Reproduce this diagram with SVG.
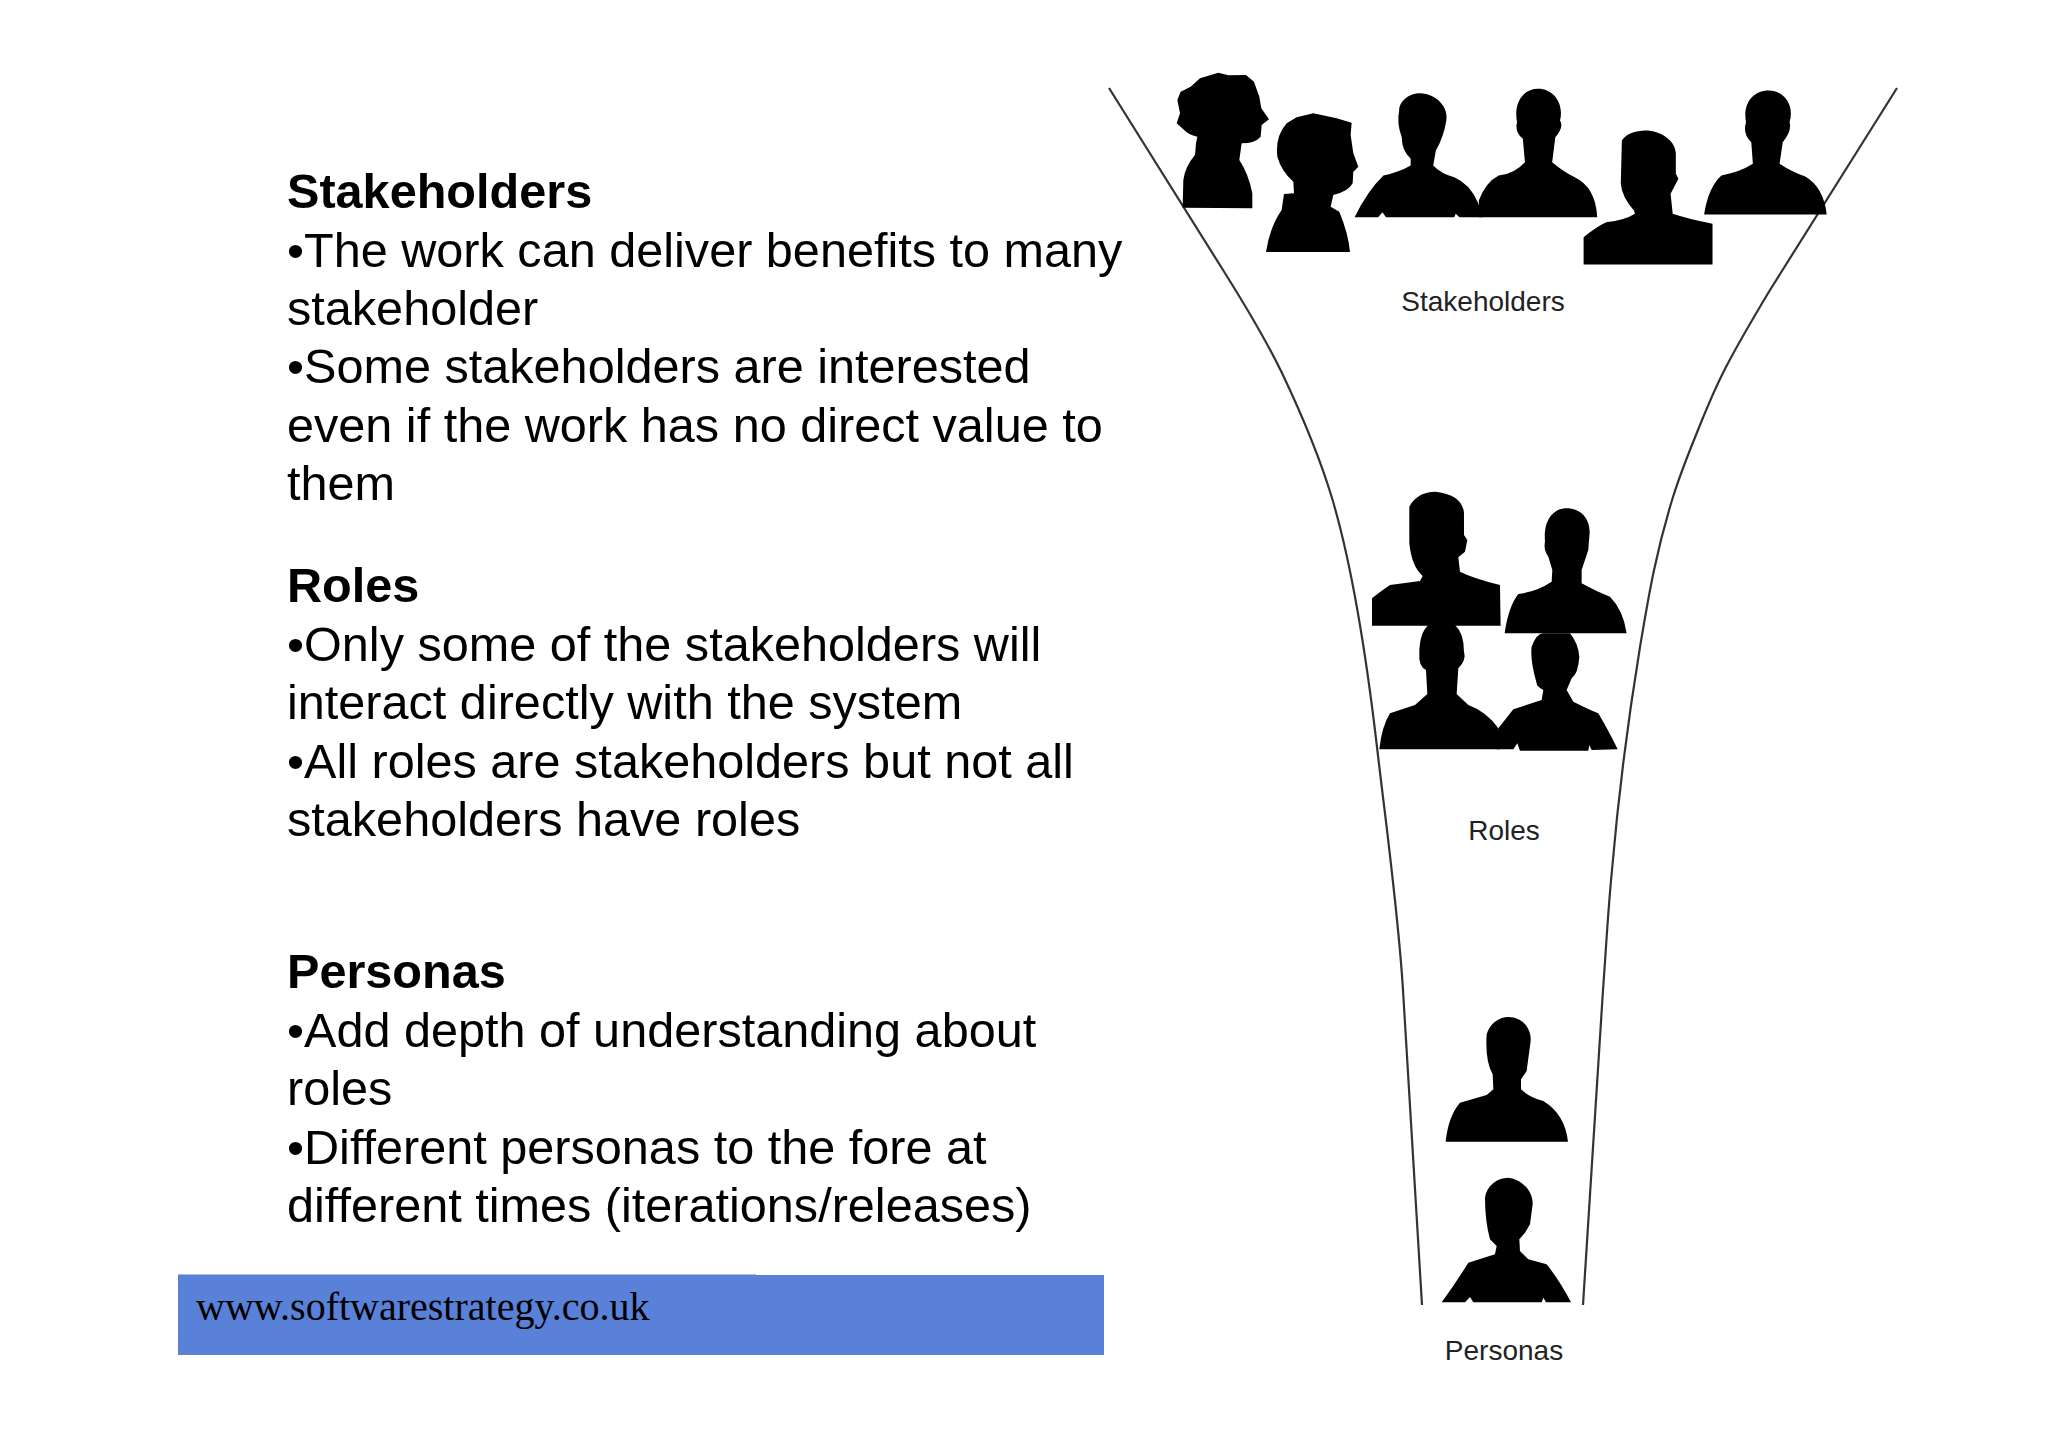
<svg xmlns="http://www.w3.org/2000/svg" width="2048" height="1447" viewBox="0 0 2048 1447">
<style>
.t{font-family:"Liberation Sans",Arial,sans-serif;font-size:48.6px;fill:#000}
.b{font-weight:bold}
.l{font-family:"Liberation Sans",Arial,sans-serif;font-size:28px;fill:#222;text-anchor:middle}
.f{fill:none;stroke:#333;stroke-width:2.2}
.s{fill:#000}
</style>
<rect width="2048" height="1447" fill="#fff"/>
<g id="connectors">
<path id="funnel-left" class="f" d="M1109 88 L1223 270 C1240 297 1265 338 1282 373 C1301 413 1319 455 1332 498 C1355 575 1368 670 1377 747 C1386 825 1398 910 1403 990 L1422 1305"/>
<path id="funnel-right" class="f" d="M1897 88 L1770 290 C1755 315 1740 340 1726 367 C1715 388 1706 410 1698 430 C1689 452 1680 475 1673 497 C1655 555 1648 600 1640 647 C1628 720 1618 800 1612 870 C1608 910 1606 950 1603 990 L1583 1305"/>
</g>
<g id="text-stakeholders">
<text class="t b" x="287" y="208">Stakeholders</text>
<text class="t" x="287" y="267">•The work can deliver benefits to many</text>
<text class="t" x="287" y="325">stakeholder</text>
<text class="t" x="287" y="383">•Some stakeholders are interested</text>
<text class="t" x="287" y="442">even if the work has no direct value to</text>
<text class="t" x="287" y="500">them</text>
</g>
<g id="text-roles">
<text class="t b" x="287" y="602">Roles</text>
<text class="t" x="287" y="661">•Only some of the stakeholders will</text>
<text class="t" x="287" y="719">interact directly with the system</text>
<text class="t" x="287" y="778">•All roles are stakeholders but not all</text>
<text class="t" x="287" y="836">stakeholders have roles</text>
</g>
<g id="text-personas">
<text class="t b" x="287" y="988">Personas</text>
<text class="t" x="287" y="1047">•Add depth of understanding about</text>
<text class="t" x="287" y="1105">roles</text>
<text class="t" x="287" y="1164">•Different personas to the fore at</text>
<text class="t" x="287" y="1222">different times (iterations/releases)</text>
</g>
<g id="banner">
<rect x="178" y="1275" width="926" height="80" fill="#5a81d8"/>
<rect x="178" y="1274" width="578" height="1" fill="#a9bde8"/>
<text x="196" y="1320" font-family="'Liberation Serif','Times New Roman',serif" font-size="40" fill="#000">www.softwarestrategy.co.uk</text>
</g>
<g id="stakeholders">
<g transform="translate(1160 60) scale(0.3333)">
<path class="s" d="M68 443 L70 360 Q75 320 105 285 L108 250 L112 230 Q85 225 70 208 L50 190 L60 160 L52 120 L62 95 L92 80 L120 55 L175 38 L205 46 L258 45 L282 65 L298 110 L304 145 L327 178 L305 195 L302 230 Q285 250 245 250 L238 300 Q265 340 277 400 L277 445 Z"/>
<path class="s" d="M318 576 Q330 500 365 450 L372 402 L402 400 L400 365 Q365 335 352 290 Q345 230 380 190 L410 172 L460 160 L530 175 L575 188 L572 225 L580 280 L595 320 L580 335 L578 370 Q565 395 520 405 L512 440 L538 455 Q565 520 570 576 Z"/>
</g>
<g transform="translate(1090 50.500) scale(0.524 0.3333)">
<path class="s" d="M505 500 Q530 420 560 375 Q590 365 612 345 L612 325 Q595 300 595 260 Q585 220 590 180 C590 150 610 128 630 128 C660 128 685 170 680 210 Q675 260 660 300 L655 345 Q670 370 695 380 Q725 400 740 455 L750 500 L705 500 L698 490 L695 500 L565 500 L558 485 L550 500 Z"/>
<path class="s" d="M742 500 L742 450 Q755 395 780 375 Q810 370 830 335 L826 265 Q810 245 815 215 C808 160 825 115 855 115 C885 115 905 160 897 210 Q905 230 888 260 L882 335 Q905 365 925 380 Q965 410 968 500 Z"/>
<path class="s" d="M942 642 L942 560 Q965 530 985 515 Q1020 510 1040 490 L1038 480 Q1015 440 1013 400 L1015 270 C1025 245 1045 240 1065 240 C1095 245 1118 275 1118 310 L1118 370 L1123 385 L1108 430 L1112 490 Q1140 505 1188 520 L1188 642 Z"/>
<path class="s" d="M1172 492 Q1180 410 1205 375 Q1240 365 1265 340 L1262 275 Q1245 250 1252 215 C1245 160 1265 120 1295 120 C1325 120 1345 165 1335 215 Q1340 240 1322 275 L1316 340 Q1340 365 1365 378 Q1400 410 1406 492 Z"/>
</g>
</g>
<g id="roles" transform="translate(1340 470) scale(0.3333)">
<path class="s" d="M96 467 L96 385 Q120 365 150 345 L240 333 L248 318 Q215 290 208 220 L208 110 C225 75 260 65 285 65 C335 70 370 90 372 130 L372 195 L382 210 L375 245 L355 262 L360 305 Q400 325 480 345 L482 467 Z"/>
<path class="s" d="M494 490 Q505 410 535 372 Q590 365 635 335 L637 300 L625 260 Q610 240 615 215 C610 150 640 115 680 115 C725 115 755 150 748 200 L745 240 L725 300 L725 340 Q770 365 810 380 Q850 420 860 490 Z"/>
<path class="s" d="M118 838 Q125 770 150 730 L225 705 L262 672 L258 600 Q235 590 238 550 Q238 490 265 465 L345 465 Q372 490 372 545 Q380 570 355 595 L350 672 L385 705 Q440 725 475 775 L480 838 Z"/>
<path class="s" d="M470 838 L475 775 Q495 750 520 718 L605 690 L610 660 Q590 650 590 640 Q570 570 575 530 Q590 490 610 490 L690 490 Q715 520 718 560 Q715 610 695 625 L680 660 L700 695 Q750 720 775 730 Q810 790 833 838 L755 840 L748 825 L745 842 L540 842 L532 820 L520 838 Z"/>
</g>
<g id="personas" transform="translate(1380 991) scale(0.3333)">
<path class="s" d="M197 452 Q205 375 240 335 L320 312 L340 295 L338 250 Q315 210 320 130 C330 95 360 78 385 78 C425 78 455 110 452 150 L440 240 L423 265 L423 295 Q450 320 490 330 Q555 370 564 452 Z"/>
<path class="s" d="M185 934 Q225 880 265 815 L345 790 L350 765 L330 745 Q315 690 315 620 C320 585 350 560 385 560 C425 565 460 600 458 640 L450 700 L435 725 L418 745 L420 780 L445 805 L500 820 Q540 870 573 934 L498 934 L490 920 L485 934 L280 934 L270 918 L255 934 Z"/>
</g>
<g id="labels">
<text class="l" x="1483" y="311">Stakeholders</text>
<text class="l" x="1504" y="840">Roles</text>
<text class="l" x="1504" y="1360">Personas</text>
</g>
</svg>
